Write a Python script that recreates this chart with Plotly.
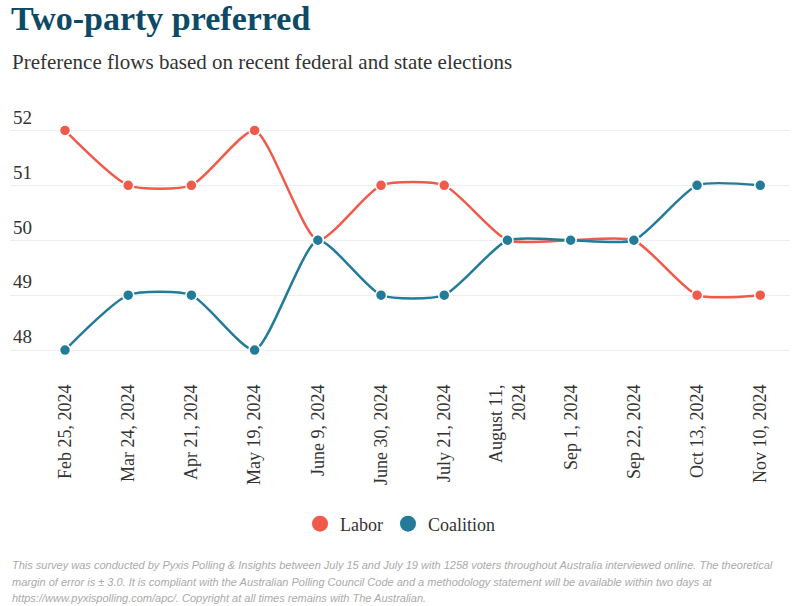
import plotly.graph_objects as go

dates = ["Feb 25, 2024", "Mar 24, 2024", "Apr 21, 2024", "May 19, 2024", "June 9, 2024",
         "June 30, 2024", "July 21, 2024", "August 11,<br>2024", "Sep 1, 2024", "Sep 22, 2024",
         "Oct 13, 2024", "Nov 10, 2024"]
labor = [52, 51, 51, 52, 50, 51, 51, 50, 50, 50, 49, 49]
coalition = [48, 49, 49, 48, 50, 49, 49, 50, 50, 50, 51, 51]
y_ticks = [48, 49, 50, 51, 52]

footer_lines = [
    "This survey was conducted by Pyxis Polling &amp; Insights between July 15 and July 19 with 1258 voters throughout Australia interviewed online. The theoretical",
    "margin of error is ± 3.0. It is compliant with the Australian Polling Council Code and a methodology statement will be available within two days at",
    "https://www.pyxispolling.com/apc/. Copyright at all times remains with The Australian.",
]

LABOR_C = "#f15a4a"
COAL_C = "#237b9a"
SERIF = "Liberation Serif, Times New Roman, serif"

fig = go.Figure()
for name, vals, col in [("Labor", labor, LABOR_C), ("Coalition", coalition, COAL_C)]:
    fig.add_trace(go.Scatter(
        x=dates, y=vals, name=name, mode="lines+markers",
        line=dict(color=col, width=2.5, shape="spline", smoothing=0.6),
        marker=dict(size=11, color=col, line=dict(color="white", width=1.5)),
        showlegend=False, hovertemplate="%{y}<extra>" + name + "</extra>",
    ))
for name, col in [("Labor", LABOR_C), ("Coalition", COAL_C)]:
    fig.add_trace(go.Scatter(
        x=[None], y=[None], name=name, mode="markers",
        marker=dict(size=18, color=col), showlegend=True,
    ))

# plot area: top 103px, bottom 372px
PT, PB = 103, 372
PH = PB - PT

def py(pix):
    return (PB - pix) / PH

annotations = [
    dict(text="Preference flows based on recent federal and state elections",
         xref="paper", yref="paper", x=0, y=py(62), xanchor="left", yanchor="middle",
         showarrow=False, font=dict(family=SERIF, size=21, color="#333333")),
]
for i, line in enumerate(footer_lines):
    annotations.append(dict(
        text=line, xref="paper", yref="paper", x=0, y=py(565 + 16.5 * i),
        xanchor="left", yanchor="middle", align="left", showarrow=False,
        font=dict(family="Liberation Sans, Arial, sans-serif", size=11, color="#aaaaaa", style="italic")))

fig.update_layout(
    width=796, height=606,
    margin=dict(l=10, r=6, t=PT, b=606 - PB),
    paper_bgcolor="white", plot_bgcolor="white",
    font=dict(family=SERIF, color="#333333"),
    title=dict(text="<b>Two-party preferred</b>", x=0, xref="container", xanchor="left",
               y=0.99, yref="container", yanchor="top", pad=dict(l=11),
               font=dict(family=SERIF, size=34, color="#0d4a66")),
    xaxis=dict(type="category", range=[-0.87, 11.47], tickangle=-90,
               tickfont=dict(family=SERIF, size=18, color="#333333"),
               showgrid=False, zeroline=False, showline=False, ticks="",
               ticklabelstandoff=8, fixedrange=True),
    yaxis=dict(range=[47.6, 52.5], tickvals=y_ticks, ticklabelposition="inside top",
               tickfont=dict(family=SERIF, size=19, color="#333333"),
               showgrid=True, gridcolor="#eeeeee", gridwidth=1, zeroline=False,
               showline=False, ticks="", fixedrange=True),
    legend=dict(orientation="h", x=0.5, xanchor="center", y=py(524), yanchor="middle",
                font=dict(family=SERIF, size=18, color="#333333"), itemwidth=30),
    annotations=annotations,
)

fig.write_html("out.html")
